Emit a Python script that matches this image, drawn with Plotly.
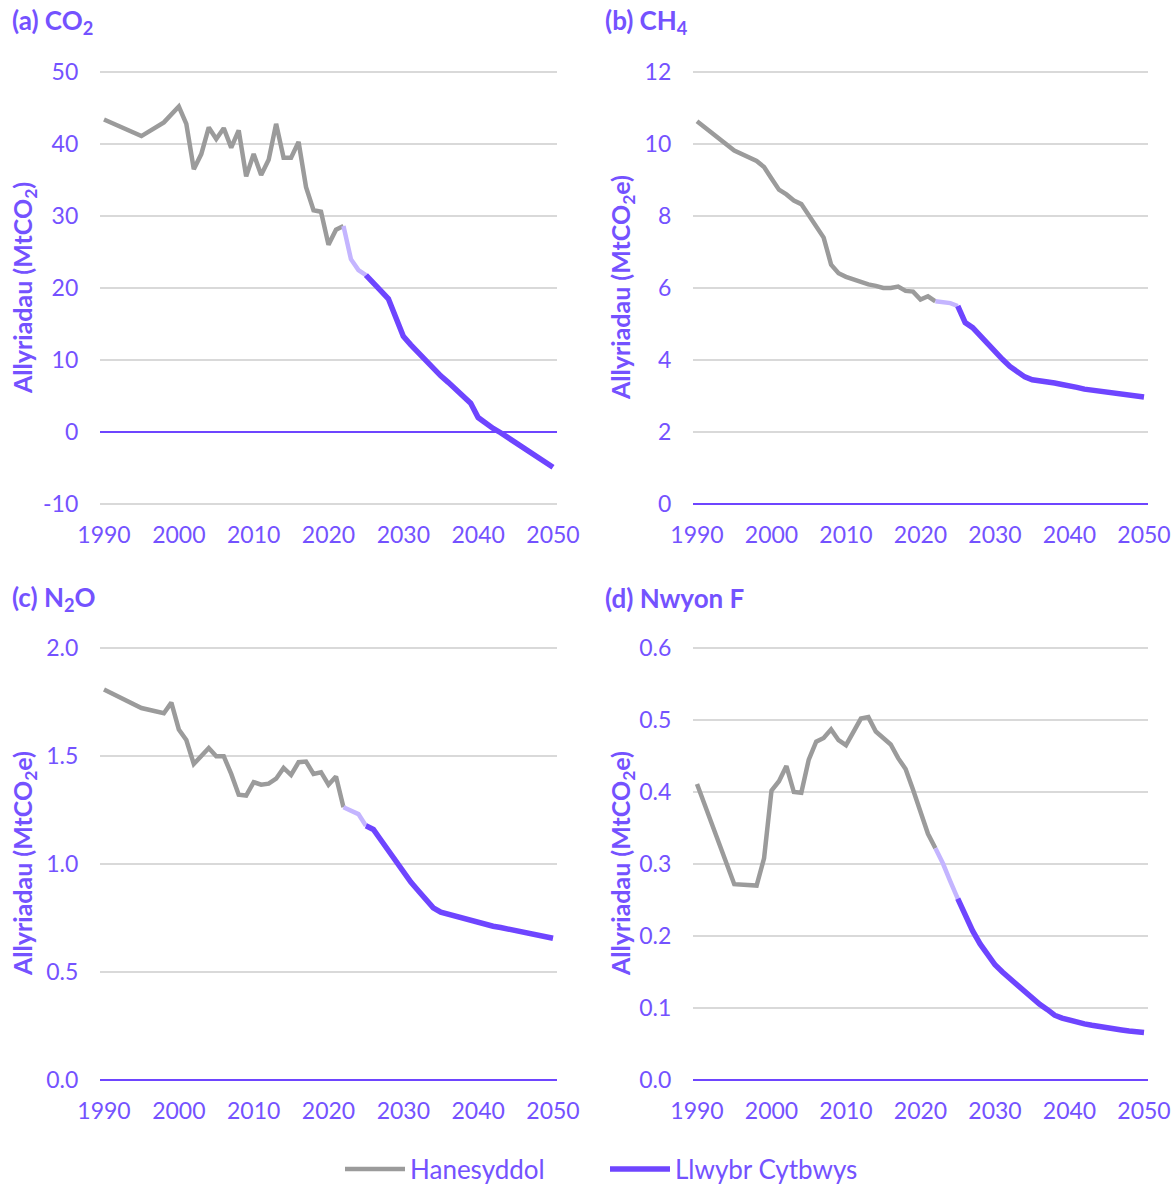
import plotly.graph_objects as go

W, H = 1175, 1184
PURPLE = "#6E45FF"
LIGHT = "#C4B5FF"
GREY = "#9B9B9B"
GRID = "#D9D9D9"
TEXT = "#7452FF"
FONT = "Lato"

# ---------------- data ----------------
hist_years = [1990, 1995, 1998, 1999, 2000, 2001, 2002, 2003, 2004, 2005, 2006, 2007,
              2008, 2009, 2010, 2011, 2012, 2013, 2014, 2015, 2016, 2017, 2018, 2019,
              2020, 2021, 2022]
bridge_years = [2022, 2023, 2024, 2025]
path_years = list(range(2025, 2051))

co2_hist = [43.4, 41.1, 43.0, 44.1, 45.2, 42.8, 36.5, 38.6, 42.3, 40.7, 42.2, 39.5,
            41.9, 35.5, 38.6, 35.7, 37.8, 42.8, 38.1, 38.1, 40.3, 34.0, 30.8, 30.6,
            26.0, 28.1, 28.6]
co2_bridge = [28.6, 24.0, 22.5, 21.8]
co2_path = [21.8, 20.6, 19.6, 18.5, 16.0, 13.3, 12.1, 11.0, 9.9, 8.8, 7.8, 6.9, 6.0,
            4.9, 4.0, 2.0, 1.2, 0.5, -0.1, -0.8, -1.5, -2.2, -2.8, -3.4, -4.1, -4.9]

ch4_hist = [10.63, 9.82, 9.53, 9.36, 9.04, 8.73, 8.60, 8.43, 8.33, 8.02, 7.68, 7.40,
            6.65, 6.41, 6.31, 6.23, 6.15, 6.10, 6.06, 6.00, 6.00, 6.04, 5.92, 5.90,
            5.68, 5.77, 5.63]
ch4_bridge = [5.63, 5.61, 5.58, 5.50]
ch4_path = [5.50, 5.04, 4.90, 4.67, 4.44, 4.21, 4.02, 3.82, 3.68, 3.53, 3.45, 3.43,
            3.40, 3.36, 3.32, 3.29, 3.24, 3.19, 3.16, 3.13, 3.10, 3.07, 3.04, 3.02,
            3.00, 2.97]

n2o_hist = [1.808, 1.722, 1.698, 1.747, 1.623, 1.574, 1.463, 1.499, 1.537, 1.499, 1.499,
            1.417, 1.321, 1.317, 1.379, 1.367, 1.372, 1.395, 1.445, 1.412, 1.471, 1.474,
            1.417, 1.425, 1.367, 1.405, 1.263]
n2o_bridge = [1.263, 1.246, 1.231, 1.177]
n2o_path = [1.177, 1.160, 1.111, 1.061, 1.012, 0.962, 0.916, 0.876, 0.835, 0.797, 0.777,
            0.767, 0.757, 0.747, 0.737, 0.727, 0.719, 0.712, 0.706, 0.699, 0.693, 0.686,
            0.679, 0.673, 0.666, 0.656]

fgas_hist = [0.411, 0.272, 0.270, 0.308, 0.402, 0.415, 0.436, 0.400, 0.399, 0.445, 0.470,
             0.475, 0.487, 0.472, 0.465, 0.484, 0.502, 0.504, 0.484, 0.475, 0.466, 0.447,
             0.432, 0.403, 0.370, 0.342, 0.322]
fgas_bridge = [0.322, 0.301, 0.276, 0.252]
fgas_path = [0.252, 0.229, 0.207, 0.189, 0.175, 0.160, 0.150, 0.141, 0.131, 0.122, 0.114,
             0.105, 0.098, 0.090, 0.086, 0.083, 0.080, 0.078, 0.076, 0.074, 0.072, 0.071,
             0.0695, 0.068, 0.0675, 0.066]

x_tick_vals = [1990, 2000, 2010, 2020, 2030, 2040, 2050]
x_tick_text = ["1990", "2000", "2010", "2020", "2030", "2040", "2050"]

co2_ticks = [-10, 0, 10, 20, 30, 40, 50]
co2_ticktext = ["-10", "0", "10", "20", "30", "40", "50"]
ch4_ticks = [0, 2, 4, 6, 8, 10, 12]
ch4_ticktext = ["0", "2", "4", "6", "8", "10", "12"]
n2o_ticks = [0.0, 0.5, 1.0, 1.5, 2.0]
n2o_ticktext = ["0.0", "0.5", "1.0", "1.5", "2.0"]
fgas_ticks = [0.0, 0.1, 0.2, 0.3, 0.4, 0.5, 0.6]
fgas_ticktext = ["0.0", "0.1", "0.2", "0.3", "0.4", "0.5", "0.6"]

titles = ["(a) CO<sub>2</sub>", "(b) CH<sub>4</sub>", "(c) N<sub>2</sub>O", "(d) Nwyon F"]
ytitles = ["Allyriadau (MtCO<sub>2</sub>)", "Allyriadau (MtCO<sub>2</sub>e)",
           "Allyriadau (MtCO<sub>2</sub>e)", "Allyriadau (MtCO<sub>2</sub>e)"]
legend_names = ["Hanesyddol", "Llwybr Cytbwys"]

# ---------------- layout geometry (pixels) ----------------
panels = [
    dict(hist=co2_hist, bridge=co2_bridge, path=co2_path, ticks=co2_ticks, ttext=co2_ticktext,
         x0=104, x1=553, ytop=72, ybot=504, col=0),
    dict(hist=ch4_hist, bridge=ch4_bridge, path=ch4_path, ticks=ch4_ticks, ttext=ch4_ticktext,
         x0=697, x1=1144, ytop=72, ybot=504, col=1),
    dict(hist=n2o_hist, bridge=n2o_bridge, path=n2o_path, ticks=n2o_ticks, ttext=n2o_ticktext,
         x0=104, x1=553, ytop=648, ybot=1080, col=0),
    dict(hist=fgas_hist, bridge=fgas_bridge, path=fgas_path, ticks=fgas_ticks, ttext=fgas_ticktext,
         x0=697, x1=1144, ytop=648, ybot=1080, col=1),
]

fig = go.Figure()
layout = {}
annotations = []

for i, p in enumerate(panels):
    n = "" if i == 0 else str(i + 1)
    xa, ya = "x" + n, "y" + n
    ppy = (p["x1"] - p["x0"]) / 60.0
    xr = [1989.5, 2050.5]
    dx0 = p["x0"] - 0.5 * ppy
    dx1 = p["x1"] + 0.5 * ppy
    ymin, ymax = p["ticks"][0], p["ticks"][-1]
    ppu = (p["ybot"] - p["ytop"]) / (ymax - ymin)
    pad = (ymax - ymin) * 0.004
    yr = [ymin - pad, ymax + pad]
    dy_top = p["ytop"] - pad * ppu
    dy_bot = p["ybot"] + pad * ppu

    fig.add_trace(go.Scatter(x=hist_years, y=p["hist"], mode="lines",
                             line=dict(color=GREY, width=4.5), name=legend_names[0],
                             legendgroup="h", showlegend=(i == 0),
                             xaxis=xa, yaxis=ya))
    fig.add_trace(go.Scatter(x=bridge_years, y=p["bridge"], mode="lines",
                             line=dict(color=LIGHT, width=4.5), showlegend=False,
                             xaxis=xa, yaxis=ya))
    fig.add_trace(go.Scatter(x=path_years, y=p["path"], mode="lines",
                             line=dict(color=PURPLE, width=5.5), name=legend_names[1],
                             legendgroup="p", showlegend=(i == 0),
                             xaxis=xa, yaxis=ya))

    layout["xaxis" + n] = dict(
        domain=[dx0 / W, dx1 / W], range=xr, anchor=ya, automargin=False,
        tickvals=x_tick_vals, ticktext=x_tick_text, showgrid=False, zeroline=False,
        showline=False, ticks="", ticklabelstandoff=13,
        tickfont=dict(family=FONT, size=23, color=TEXT), fixedrange=True)
    layout["yaxis" + n] = dict(
        domain=[1 - dy_bot / H, 1 - dy_top / H], range=yr, anchor=xa, automargin=False,
        tickvals=p["ticks"], ticktext=p["ttext"], showgrid=True, gridcolor=GRID, gridwidth=2,
        zeroline=True, zerolinecolor=PURPLE, zerolinewidth=2, showline=False, ticks="",
        ticklabelstandoff=21, tickfont=dict(family=FONT, size=23, color=TEXT), fixedrange=True)

    tx = 10 if p["col"] == 0 else 603
    annotations.append(dict(text="<b>" + titles[i] + "</b>", x=tx / W, y=1 - (p["ytop"] - 50) / H,
                            xref="paper", yref="paper", xanchor="left", yanchor="middle",
                            showarrow=False, font=dict(family=FONT, size=26, color=TEXT)))
    yx = 24 if p["col"] == 0 else 622
    annotations.append(dict(text="<b>" + ytitles[i] + "</b>", x=yx / W,
                            y=1 - ((p["ytop"] + p["ybot"]) / 2) / H,
                            xref="paper", yref="paper", xanchor="center", yanchor="middle",
                            textangle=-90, showarrow=False,
                            font=dict(family=FONT, size=25, color=TEXT)))

fig.update_layout(
    **layout,
    annotations=annotations,
    width=W, height=H,
    margin=dict(l=0, r=0, t=0, b=0, autoexpand=False),
    paper_bgcolor="white", plot_bgcolor="white",
    showlegend=True,
    legend=dict(orientation="h", x=605 / W, xanchor="center", y=1 - 1169 / H, yanchor="middle",
                font=dict(family=FONT, size=26, color=TEXT), itemwidth=60,
                entrywidth=190, entrywidthmode="pixels",
                bgcolor="rgba(0,0,0,0)"),
)

fig.write_html("out.html", config={"displayModeBar": False},
               post_script="document.body.style.margin='0';document.body.style.overflow='hidden';")
